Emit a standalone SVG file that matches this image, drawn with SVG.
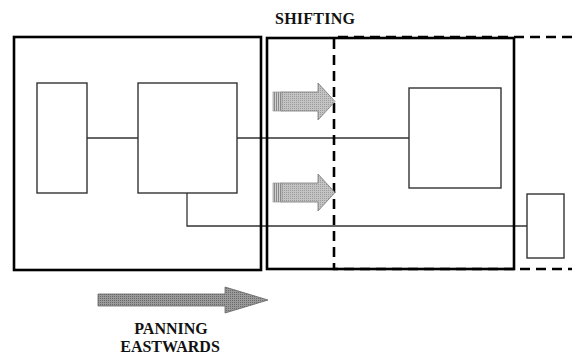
<svg xmlns="http://www.w3.org/2000/svg" width="572" height="356" viewBox="0 0 572 356">
<style>
.frame{fill:none;stroke:#000;stroke-width:2.6}
.dash{fill:none;stroke:#000;stroke-width:2.6;stroke-dasharray:10 6}
.box{fill:#fff;stroke:#333;stroke-width:1.4}
.conn{fill:none;stroke:#333;stroke-width:1.3}
.lbl{font-family:"Liberation Serif","Times New Roman",serif;font-weight:bold;font-size:16px;fill:#111}
.shift{fill:url(#dotsLight);stroke:#777;stroke-width:0.8}
.pan{fill:url(#dotsDark);stroke:#666;stroke-width:0.8}
</style>
<defs>
<pattern id="dotsLight" width="2" height="2" patternUnits="userSpaceOnUse">
<rect width="2" height="2" fill="#c4c4c4"/>
<rect width="1" height="1" fill="#9a9a9a"/>
</pattern>
<pattern id="dotsDark" width="2" height="2" patternUnits="userSpaceOnUse">
<rect width="2" height="2" fill="#9a9a9a"/>
<rect width="1" height="1" fill="#6a6a6a"/>
</pattern>
<pattern id="stripes" width="2" height="2" patternUnits="userSpaceOnUse">
<rect width="2" height="2" fill="#d0d0d0"/>
<rect width="1" height="2" fill="#8a8a8a"/>
</pattern>
</defs>
<rect width="572" height="356" fill="#fff"/>

<g id="connectors">
<line class="conn" x1="87" y1="138" x2="138" y2="138"/>
<line class="conn" x1="237" y1="138" x2="409" y2="138"/>
<polyline class="conn" points="187,193 187,226 527,226"/>
</g>

<g id="frame-left"><rect class="frame" x="14" y="37" width="247" height="233"/></g>
<g id="frame-middle"><rect class="frame" x="267" y="38" width="247" height="231"/></g>
<g id="frame-shifted"><path class="dash" d="M572,37 H334 V269 H572"/></g>

<g id="box-small"><rect class="box" x="37" y="83" width="50" height="110"/></g>
<g id="box-middle"><rect class="box" x="138" y="83" width="99" height="110"/></g>
<g id="box-right"><rect class="box" x="409" y="88" width="92" height="100"/></g>
<g id="box-far-right"><rect class="box" x="527" y="194" width="37" height="64"/></g>

<g id="arrow-shift-upper">
<polygon class="shift" points="281,92 318,92 318,83 335,101.5 318,120 318,111 281,111"/>
<rect x="273" y="92" width="9" height="19" fill="url(#stripes)" stroke="#888" stroke-width="0.6"/>
</g>
<g id="arrow-shift-lower">
<polygon class="shift" points="281,183 318,183 318,174 335,192.5 318,211 318,202 281,202"/>
<rect x="273" y="183" width="9" height="19" fill="url(#stripes)" stroke="#888" stroke-width="0.6"/>
</g>
<g id="arrow-pan">
<polygon class="pan" points="98,294 225,294 225,287 268,300 225,313 225,306 98,306"/>
</g>

<g id="label-shifting"><text class="lbl" x="275" y="24" textLength="80">SHIFTING</text></g>
<g id="label-panning">
<text class="lbl" x="171" y="334" text-anchor="middle">PANNING</text>
<text class="lbl" x="170" y="352" text-anchor="middle">EASTWARDS</text>
</g>
</svg>
